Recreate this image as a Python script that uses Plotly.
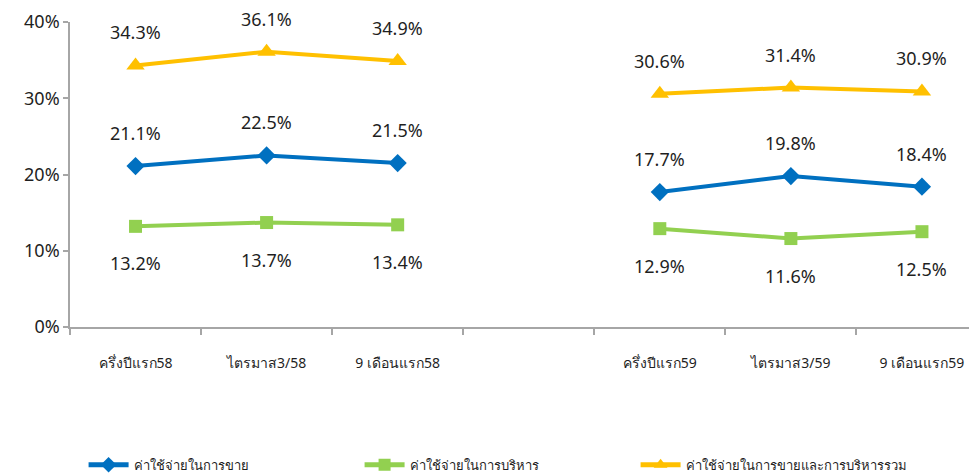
import plotly.graph_objects as go

# Category positions (gap at 3 separates the two years)
x_pos = [0, 1, 2, 4, 5, 6]
categories = ["ครึ่งปีแรก58", "ไตรมาส3/58", "9 เดือนแรก58",
              "ครึ่งปีแรก59", "ไตรมาส3/59", "9 เดือนแรก59"]

selling = [21.1, 22.5, 21.5, 17.7, 19.8, 18.4]
admin = [13.2, 13.7, 13.4, 12.9, 11.6, 12.5]
total = [34.3, 36.1, 34.9, 30.6, 31.4, 30.9]

series = [
    ("ค่าใช้จ่ายในการขาย", selling, "#0070C0", "diamond", 14, 1),
    ("ค่าใช้จ่ายในการบริหาร", admin, "#92D050", "square", 13, -1),
    ("ค่าใช้จ่ายในการขายและการบริหารรวม", total, "#FFC000", "triangle-up", 16, 1),
]

fig = go.Figure()
label_font = dict(family="Noto Sans, DejaVu Sans, sans-serif", size=18, color="#1f1f1f")

for name, vals, color, symbol, msize, side in series:
    ys = [v / 100 for v in vals]
    for xi, gx in enumerate([x_pos[:3], x_pos[3:]]):
        fig.add_trace(go.Scatter(
            x=gx, y=ys[xi * 3:xi * 3 + 3],
            mode="lines+markers", name=name,
            line=dict(color=color, width=4),
            marker=dict(symbol=symbol, size=msize, color=color),
            showlegend=(xi == 0), legendgroup=name,
        ))
    for x, v in zip(x_pos, vals):
        fig.add_annotation(
            x=x, y=v / 100, text=f"{v:.1f}%", showarrow=False,
            yshift=33 if side > 0 else -37, font=label_font,
        )

fig.update_xaxes(
    range=[-0.5, 6.42], automargin=False,
    tickmode="array", tickvals=x_pos, ticktext=categories,
    ticks="", showline=True, linecolor="#a6a6a6", linewidth=1.5,
    showgrid=False, zeroline=False,
    tickfont=dict(family="Tahoma, Noto Sans, DejaVu Sans, sans-serif", size=14, color="#1f1f1f"),
    minor=dict(ticks="outside", tickmode="linear", tick0=-0.5, dtick=1,
               ticklen=6, tickcolor="#a6a6a6", tickwidth=1.5, showgrid=False),
    ticklabelstandoff=22,
)
fig.update_yaxes(
    range=[0, 0.4], tickvals=[0, 0.1, 0.2, 0.3, 0.4], tickformat=".0%",
    automargin=False,
    showline=True, linecolor="#a6a6a6", linewidth=1.5,
    ticks="outside", ticklen=5, tickcolor="#a6a6a6", tickwidth=1.5,
    showgrid=False, zeroline=False,
    tickfont=dict(family="Noto Sans, DejaVu Sans, sans-serif", size=18, color="#1f1f1f"),
)

# page body adds an 8px offset, so the figure is sized to fill the rest
fig.update_layout(
    width=969, height=467,
    margin=dict(l=62, r=0, t=14, b=148, autoexpand=False),
    plot_bgcolor="white", paper_bgcolor="white",
    legend=dict(
        orientation="h", xref="container", yref="container",
        x=0.078, y=0.022, xanchor="left", yanchor="middle",
        entrywidth=221, entrywidthmode="pixels",
        font=dict(family="Tahoma, Noto Sans, DejaVu Sans, sans-serif", size=13, color="#1f1f1f"),
        itemwidth=40, itemsizing="constant", tracegroupgap=0,
    ),
)

fig.write_html("out.html")
